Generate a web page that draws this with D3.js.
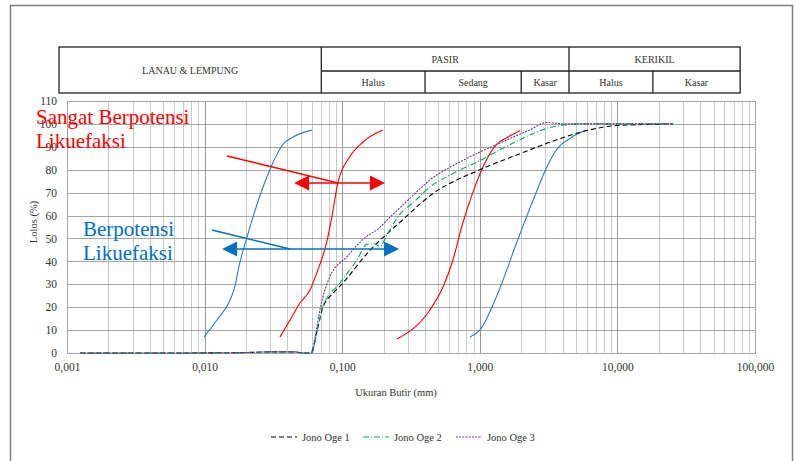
<!DOCTYPE html>
<html><head><meta charset="utf-8">
<script src="https://cdn.jsdelivr.net/npm/d3@7/dist/d3.min.js"></script>
<style>body{margin:0;background:#fff}svg{display:block}svg text{font-family:"Times New Roman","Liberation Serif",Tinos,"DejaVu Serif",serif}</style>
</head><body><svg id="c" width="795" height="461"></svg>
<script>
// ---- data ----
const xTickLabels = ["0,001","0,010","0,100","1,000","10,000","100,000"];
const xTickValues = [0.001,0.01,0.1,1,10,100];
const yTickValues = [0,10,20,30,40,50,60,70,80,90,100,110];
const seriesNames = ["Jono Oge 1","Jono Oge 2","Jono Oge 3"];
const jono1 = [[0.00125,0],[0.005,0],[0.02,0.2],[0.03,0.5],[0.045,0.5],[0.053,0],[0.059,0],[0.0665,11],[0.0724,20],[0.0856,26],[0.101,30.5],[0.151,43.3],[0.262,57],[0.455,69.5],[1.0,80],[1.96,87],[3.06,91.5],[5.9,97],[9.9,99.3],[25.4,100]];
const jono2 = [[0.00125,0],[0.005,0],[0.02,0.2],[0.03,0.5],[0.045,0.5],[0.053,0],[0.06,0],[0.066,10],[0.072,20],[0.096,30.5],[0.128,40.6],[0.151,47.4],[0.172,47.6],[0.188,46.5],[0.211,51.5],[0.262,60.5],[0.326,65.5],[0.434,72.5],[0.577,77],[1.0,84],[1.75,91.7],[3.06,98],[5.3,100],[25.4,100]];
const jono3 = [[0.00125,0],[0.005,0],[0.02,0.2],[0.03,0.5],[0.045,0.5],[0.053,0],[0.06,0],[0.064,8],[0.069,19],[0.081,33],[0.108,42],[0.151,51],[0.178,53.7],[0.22,59],[0.31,67.5],[0.434,75.5],[0.75,84],[1.32,91],[2.3,97.3],[3.06,100.6],[4.2,100],[25.4,100]];
const blueFine = [[0.0099,7],[0.0123,14.4],[0.0153,23],[0.0165,28.5],[0.0178,38],[0.0203,50.5],[0.0298,80],[0.037,91],[0.044,94.3],[0.0603,97.3]];
const redFine = [[0.0353,7],[0.0418,14.4],[0.0493,21.8],[0.0584,27.5],[0.0654,35],[0.0776,49],[0.0856,62],[0.0928,74],[0.113,85.5],[0.141,92],[0.197,97.3]];
const redCoarse = [[0.25,6.1],[0.434,18.8],[0.54,28.8],[0.638,40.6],[0.738,55],[0.889,70],[1.05,81],[1.32,91],[1.57,94],[1.96,97]];
const blueCoarse = [[0.849,7],[1.0,10],[1.32,24.5],[1.85,48],[2.45,67],[3.06,81],[3.6,88.6],[4.7,94.3],[5.9,97.3]];
// header classification (boundaries in mm)
const headerBounds = [0.0705, 0.4, 2, 4.45, 18.1, 78];
const headerTop = ["PASIR","KERIKIL"];
const headerSub = ["Halus","Sedang","Kasar","Halus","Kasar"];
// annotations (data coordinates)
const redPointer = [[0.01455,86],[0.0932,74.2]];
const redArrow = [[0.0447,74.2],[0.2047,74.2]];
const bluePointer = [[0.01132,53.7],[0.04175,45.4]];
const blueArrow = [[0.0134,45.4],[0.259,45.4]];

// ---- layout ----
const svg = d3.select("#c");
const L = 67, R = 755, T = 101, B = 353;
const x = d3.scaleLog().domain([0.001,100]).range([L,R]);
const y = d3.scaleLinear().domain([0,110]).range([B,T]);
const txt = "#333";

// outer frame
svg.append("rect").attr("x",10.5).attr("y",5.5).attr("width",782).attr("height",470)
  .attr("fill","none").attr("stroke","#7f7f7f").attr("stroke-width",1.5);

// grid
const g = svg.append("g");
const minor = [];
for (let e=-3;e<2;e++) for (let k=2;k<=9;k++) minor.push(k*Math.pow(10,e));
g.selectAll(".vm").data(minor).join("line")
  .attr("x1",d=>Math.round(x(d))+0.5).attr("x2",d=>Math.round(x(d))+0.5).attr("y1",T).attr("y2",B)
  .attr("stroke","#c8c8c8").attr("stroke-width",1);
g.selectAll(".hy").data(yTickValues).join("line")
  .attr("x1",L).attr("x2",R).attr("y1",d=>Math.round(y(d))+0.5).attr("y2",d=>Math.round(y(d))+0.5)
  .attr("stroke","#a6a6a6").attr("stroke-width",1);
g.selectAll(".vd").data(xTickValues).join("line")
  .attr("x1",d=>Math.round(x(d))+0.5).attr("x2",d=>Math.round(x(d))+0.5).attr("y1",T).attr("y2",B)
  .attr("stroke","#999").attr("stroke-width",1);
svg.append("rect").attr("x",L+0.5).attr("y",T+0.5).attr("width",R-L).attr("height",B-T)
  .attr("fill","none").attr("stroke","#a6a6a6");

// axes (labels only)
const xAxis = d3.axisBottom(x).tickValues(xTickValues).tickFormat((d,i)=>xTickLabels[i]).tickSize(0).tickPadding(10);
const ax = svg.append("g").attr("transform",`translate(0,${B})`).call(xAxis).attr("font-family",null);
ax.select(".domain").remove();
ax.selectAll("text").attr("font-size",11.5).attr("fill",txt);
const yAxis = d3.axisLeft(y).tickValues(yTickValues).tickSize(0).tickPadding(10);
const ay = svg.append("g").attr("transform",`translate(${L},0)`).call(yAxis).attr("font-family",null);
ay.select(".domain").remove();
ay.selectAll("text").attr("font-size",11.5).attr("fill",txt);

svg.append("text").attr("transform","translate(37,222) rotate(-90)").attr("text-anchor","middle")
  .attr("font-size",10.5).attr("fill",txt).text("Lolos (%)");
svg.append("text").attr("x",396).attr("y",396).attr("text-anchor","middle")
  .attr("font-size",10.5).attr("fill",txt).text("Ukuran Butir (mm)");

// header table
const hx = [L-8].concat(headerBounds.map(d=>x(d)));
const hT = 47, hM = 71, hB = 93;
const ht = svg.append("g").attr("stroke","#222").attr("stroke-width",1.3).attr("fill","none");
ht.append("rect").attr("x",hx[0]).attr("y",hT).attr("width",hx[6]-hx[0]).attr("height",hB-hT);
ht.append("line").attr("x1",hx[1]).attr("x2",hx[6]).attr("y1",hM).attr("y2",hM);
[1,4].forEach(i=>ht.append("line").attr("x1",hx[i]).attr("x2",hx[i]).attr("y1",hT).attr("y2",hB));
[2,3,5].forEach(i=>ht.append("line").attr("x1",hx[i]).attr("x2",hx[i]).attr("y1",hM).attr("y2",hB));
svg.append("text").attr("x",(hx[0]+hx[1])/2).attr("y",(hT+hB)/2+3.5).attr("text-anchor","middle")
  .attr("font-size",10).attr("fill",txt).text("LANAU & LEMPUNG");
svg.append("text").attr("x",(hx[1]+hx[4])/2).attr("y",(hT+hM)/2+3.5).attr("text-anchor","middle")
  .attr("font-size",10).attr("fill",txt).text(headerTop[0]);
svg.append("text").attr("x",(hx[4]+hx[6])/2).attr("y",(hT+hM)/2+3.5).attr("text-anchor","middle")
  .attr("font-size",10).attr("fill",txt).text(headerTop[1]);
headerSub.forEach((s,i)=>{
  svg.append("text").attr("x",(hx[i+1]+hx[i+2])/2).attr("y",(hM+hB)/2+3.5).attr("text-anchor","middle")
    .attr("font-size",10).attr("fill",txt).text(s);
});

// lines
const line = d3.line().x(d=>x(d[0])).y(d=>y(d[1])).curve(d3.curveMonotoneX);
const boundaries = [[blueFine,"#2e7bc4"],[redFine,"#ff0000"],[redCoarse,"#ff0000"],[blueCoarse,"#2e7bc4"]];
boundaries.forEach(([d,c])=>svg.append("path").datum(d).attr("d",line).attr("fill","none").attr("stroke",c).attr("stroke-width",1.1));

const series = [[jono1,"#000","5,3",1.1],[jono2,"#00b050","6,2,1,2",1.1],[jono3,"#7030a0","2,1.2",1.1]];
series.forEach(([d,c,da,w])=>svg.append("path").datum(d).attr("d",line).attr("fill","none")
  .attr("stroke",c).attr("stroke-width",w).attr("stroke-dasharray",da));

// annotations
function arrowPair(pts,color){
  const x1=x(pts[0][0]), x2=x(pts[1][0]), yy=y(pts[0][1]);
  svg.append("line").attr("x1",x1+10).attr("x2",x2-10).attr("y1",yy).attr("y2",yy).attr("stroke",color).attr("stroke-width",1.6);
  svg.append("path").attr("d",`M${x1},${yy}L${x1+15},${yy-7.5}L${x1+15},${yy+7.5}Z`).attr("fill",color);
  svg.append("path").attr("d",`M${x2},${yy}L${x2-15},${yy-7.5}L${x2-15},${yy+7.5}Z`).attr("fill",color);
}
svg.append("line").attr("x1",x(redPointer[0][0])).attr("y1",y(redPointer[0][1])).attr("x2",x(redPointer[1][0])).attr("y2",y(redPointer[1][1]))
  .attr("stroke","#ff0000").attr("stroke-width",1.5);
arrowPair(redArrow,"#ff0000");
svg.append("line").attr("x1",x(bluePointer[0][0])).attr("y1",y(bluePointer[0][1])).attr("x2",x(bluePointer[1][0])).attr("y2",y(bluePointer[1][1]))
  .attr("stroke","#0070c0").attr("stroke-width",1.5);
arrowPair(blueArrow,"#0070c0");

svg.append("text").attr("x",36).attr("y",124).attr("font-size",21).attr("fill","#ff0000").text("Sangat Berpotensi");
svg.append("text").attr("x",36).attr("y",148).attr("font-size",21).attr("fill","#ff0000").text("Likuefaksi");
svg.append("text").attr("x",83).attr("y",236).attr("font-size",21).attr("fill","#0070c0").text("Berpotensi");
svg.append("text").attr("x",83).attr("y",260).attr("font-size",21).attr("fill","#0070c0").text("Likuefaksi");

// legend
const lg = svg.append("g").attr("transform","translate(0,437)");
const lgX = [271,363,456];
series.forEach(([d,c,da,w],i)=>{
  lg.append("line").attr("x1",lgX[i]).attr("x2",lgX[i]+26).attr("y1",0).attr("y2",0)
    .attr("stroke",c).attr("stroke-width",w).attr("stroke-dasharray",da);
  lg.append("text").attr("x",lgX[i]+31).attr("y",3.8).attr("font-size",10.5).attr("fill",txt).text(seriesNames[i]);
});
</script></body></html>
